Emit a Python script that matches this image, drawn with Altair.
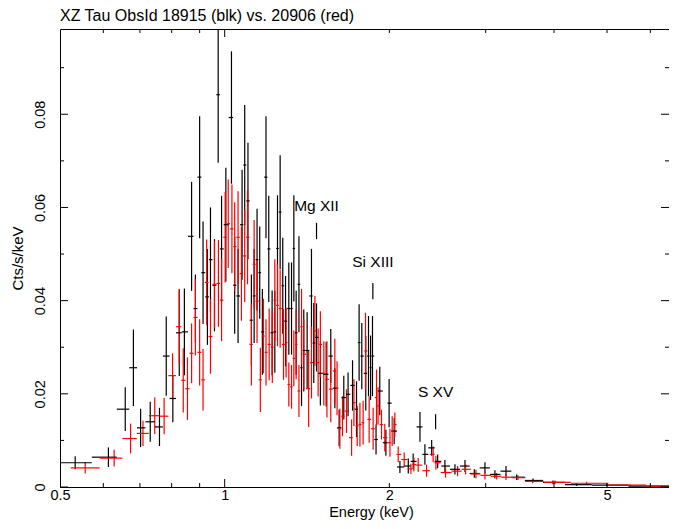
import altair as alt
import numpy as np
import pandas as pd

# ---- data ----
black_energy = [0.533, 0.613, 0.658, 0.681, 0.702, 0.731, 0.760, 0.782, 0.804, 0.826,
                0.844, 0.870, 0.884, 0.900, 0.913, 0.930, 0.942, 0.958, 0.973, 0.987,
                1.005, 1.029, 1.043, 1.058, 1.076, 1.088, 1.103, 1.119, 1.132, 1.146,
                1.159, 1.172, 1.190, 1.204, 1.221, 1.235, 1.249, 1.263, 1.277, 1.292,
                1.310, 1.325, 1.338, 1.351, 1.367, 1.382, 1.395, 1.415, 1.441, 1.455,
                1.472, 1.496, 1.533, 1.563, 1.590, 1.619, 1.651, 1.681, 1.713, 1.742,
                1.761, 1.781, 1.811, 1.832, 1.848, 1.863, 1.891, 1.921, 1.971, 1.998,
                2.041, 2.091, 2.166, 2.211, 2.275, 2.323, 2.390, 2.451, 2.527, 2.636,
                2.750, 2.860, 2.991, 3.119, 3.268, 3.418, 3.661, 3.983, 4.402, 4.994, 5.995]
black_rate = [0.0052, 0.0064, 0.0167, 0.0256, 0.0127, 0.0140, 0.0129, 0.0281, 0.0190, 0.0331,
              0.0333, 0.0538, 0.0383, 0.0665, 0.0460, 0.0408, 0.0488, 0.0433, 0.0842, 0.0511,
              0.0563, 0.0793, 0.0433, 0.0410, 0.0563, 0.0691, 0.0614, 0.0358, 0.0410, 0.0488,
              0.0460, 0.0333, 0.0665, 0.0511, 0.0331, 0.0333, 0.0512, 0.0590, 0.0432, 0.0356,
              0.0383, 0.0383, 0.0512, 0.0331, 0.0435, 0.0256, 0.0293, 0.0293, 0.0410, 0.0309,
              0.0321, 0.0244, 0.0242, 0.0281, 0.0212, 0.0127, 0.0192, 0.0199, 0.0218, 0.0167,
              0.0310, 0.0281, 0.0244, 0.0281, 0.0256, 0.0281, 0.0102, 0.0206, 0.0095, 0.0180,
              0.0120, 0.0043, 0.0045, 0.0055, 0.0129, 0.0070, 0.0084, 0.0055, 0.0045, 0.0038,
              0.0045, 0.0029, 0.0041, 0.0027, 0.0034, 0.0021, 0.0014, 0.0010, 0.0005, 0.0004, 0.0002]
black_err = [0.0014, 0.0021, 0.0047, 0.0082, 0.0041, 0.0043, 0.0041, 0.0085, 0.0051, 0.0093,
             0.0093, 0.0117, 0.0073, 0.0131, 0.0110, 0.0103, 0.0112, 0.0099, 0.0146, 0.0114,
             0.0122, 0.0142, 0.0104, 0.0101, 0.0118, 0.0129, 0.0125, 0.0098, 0.0101, 0.0109,
             0.0099, 0.0092, 0.0131, 0.0114, 0.0091, 0.0088, 0.0114, 0.0122, 0.0103, 0.0097,
             0.0099, 0.0099, 0.0114, 0.0090, 0.0103, 0.0082, 0.0088, 0.0082, 0.0101, 0.0086,
             0.0073, 0.0069, 0.0069, 0.0058, 0.0043, 0.0039, 0.0047, 0.0047, 0.0054, 0.0060,
             0.0082, 0.0071, 0.0080, 0.0086, 0.0069, 0.0086, 0.0032, 0.0052, 0.0028, 0.0052,
             0.0028, 0.0013, 0.0016, 0.0017, 0.0032, 0.0022, 0.0017, 0.0015, 0.0013, 0.0011,
             0.0013, 0.0009, 0.0012, 0.0009, 0.0011, 0.0006, 0.0004, 0.0004, 0.0003, 0.0003, 0.0002]

red_energy = [0.556, 0.628, 0.673, 0.709, 0.745, 0.775, 0.803, 0.826, 0.840, 0.855,
              0.870, 0.884, 0.900, 0.913, 0.927, 0.942, 0.958, 0.974, 0.987, 1.002,
              1.015, 1.031, 1.043, 1.058, 1.073, 1.088, 1.101, 1.119, 1.132, 1.146,
              1.162, 1.177, 1.190, 1.206, 1.222, 1.235, 1.249, 1.263, 1.281, 1.295,
              1.310, 1.325, 1.338, 1.351, 1.367, 1.382, 1.395, 1.424, 1.441, 1.462,
              1.482, 1.496, 1.518, 1.538, 1.563, 1.590, 1.605, 1.624, 1.642, 1.670,
              1.706, 1.723, 1.747, 1.767, 1.791, 1.809, 1.837, 1.868, 1.895, 1.907,
              1.935, 1.962, 2.005, 2.024, 2.047, 2.076, 2.129, 2.190, 2.218, 2.258,
              2.339, 2.405, 2.433, 2.534, 2.666, 2.757, 2.880, 2.991, 3.142, 3.268,
              3.437, 3.656, 4.017, 4.590, 5.510, 6.300]
red_rate = [0.0041, 0.0062, 0.0104, 0.0115, 0.0153, 0.0152, 0.0239, 0.0344, 0.0229, 0.0211,
            0.0287, 0.0364, 0.0289, 0.0230, 0.0439, 0.0323, 0.0435, 0.0437, 0.0401, 0.0536,
            0.0565, 0.0554, 0.0516, 0.0536, 0.0458, 0.0496, 0.0536, 0.0306, 0.0478, 0.0399,
            0.0230, 0.0324, 0.0289, 0.0306, 0.0300, 0.0401, 0.0390, 0.0383, 0.0306, 0.0310,
            0.0220, 0.0215, 0.0276, 0.0306, 0.0206, 0.0344, 0.0285, 0.0211, 0.0267, 0.0335,
            0.0267, 0.0306, 0.0244, 0.0231, 0.0210, 0.0249, 0.0212, 0.0125, 0.0152, 0.0163,
            0.0106, 0.0181, 0.0131, 0.0134, 0.0138, 0.0292, 0.0145, 0.0125, 0.0192, 0.0174,
            0.0134, 0.0106, 0.0095, 0.0120, 0.0134, 0.0070, 0.0059, 0.0039, 0.0048, 0.0047,
            0.0035, 0.0070, 0.0052, 0.0031, 0.0034, 0.0038, 0.0028, 0.0025, 0.0023, 0.0021,
            0.0020, 0.0012, 0.0010, 0.0008, 0.0004, 0.0002]
red_err = [0.0012, 0.0018, 0.0032, 0.0027, 0.0039, 0.0039, 0.0048, 0.0081, 0.0069, 0.0067,
           0.0064, 0.0082, 0.0071, 0.0066, 0.0092, 0.0080, 0.0093, 0.0093, 0.0088, 0.0097,
           0.0095, 0.0095, 0.0095, 0.0099, 0.0101, 0.0099, 0.0101, 0.0088, 0.0095, 0.0090,
           0.0069, 0.0080, 0.0071, 0.0077, 0.0077, 0.0088, 0.0088, 0.0084, 0.0076, 0.0075,
           0.0047, 0.0047, 0.0060, 0.0075, 0.0056, 0.0081, 0.0075, 0.0082, 0.0077, 0.0075,
           0.0073, 0.0071, 0.0069, 0.0082, 0.0071, 0.0069, 0.0058, 0.0043, 0.0043, 0.0047,
           0.0039, 0.0050, 0.0043, 0.0047, 0.0047, 0.0082, 0.0050, 0.0045, 0.0060, 0.0040,
           0.0032, 0.0030, 0.0030, 0.0032, 0.0026, 0.0017, 0.0015, 0.0011, 0.0015, 0.0015,
           0.0013, 0.0017, 0.0015, 0.0011, 0.0011, 0.0011, 0.0009, 0.0009, 0.0007, 0.0006,
           0.0005, 0.0004, 0.0004, 0.0003, 0.0002, 0.0001]

line_names = ["Mg XII", "Si XIII", "S XV"]
line_energy = [1.472, 1.866, 2.43]
label_rate = [0.0603, 0.0483, 0.0203]
marker_lo = [0.0532, 0.0403, 0.0124]
marker_hi = [0.0567, 0.0438, 0.0156]

x_major_ticks = [1.0]
x_minor_ticks = [0.6, 0.7, 0.8, 0.9, 2.0, 3.0, 4.0, 5.0, 6.0]
y_major_ticks = [0.0, 0.02, 0.04, 0.06, 0.08]
y_minor_ticks = [0.01, 0.03, 0.05, 0.07, 0.09]
x_labels = [0.5, 1, 2, 5]

E_MIN, E_MAX = 0.5, 6.49
R_MAX = 0.0983
W, H = 609, 458
FONT = "Liberation Sans"


def build(series, energy, rate, err):
    e = np.array(energy)
    mids = np.sqrt(e[:-1] * e[1:])
    lo = np.concatenate([[e[0] ** 2 / mids[0]], mids])
    hi = np.concatenate([mids, [e[-1] ** 2 / mids[-1]]])
    r = np.array(rate)
    s = np.array(err)
    return pd.DataFrame({"series": series, "E": e, "lo_e": lo, "hi_e": hi,
                         "rate": r, "lo_r": r - s, "hi_r": r + s})


df = pd.concat([build("blk", black_energy, black_rate, black_err),
                build("red", red_energy, red_rate, red_err)], ignore_index=True)

xs = alt.Scale(type="log", domain=[E_MIN, E_MAX], nice=False, zero=False)
ys = alt.Scale(domain=[0, R_MAX], nice=False, zero=False)
x_axis = alt.Axis(values=x_labels, format="~g", title="Energy (keV)", labelPadding=1,
                  labelFontSize=14.5, titleFontSize=14.5,
                  titleX=311, titleY=25.5, titleAlign="center", titleBaseline="middle",
                  labelFlush=False)
y_axis = alt.Axis(values=y_major_ticks, format="~g", title="Cts/s/keV", labelAngle=270,
                  labelFontSize=14.5, titleFontSize=15,
                  labelAlign="center", labelBaseline="middle", labelPadding=20,
                  titleAngle=270, titleX=-43, titleY=H / 2, titleAlign="center",
                  titleBaseline="middle", labelFlush=False)
col = alt.Color("series:N", scale=alt.Scale(domain=["blk", "red"], range=["#000000", "#ff0000"]),
                legend=None)

base = alt.Chart(df)
vbars = base.mark_rule(strokeWidth=1.2, clip=True).encode(
    x=alt.X("E:Q", scale=xs, axis=x_axis),
    y=alt.Y("lo_r:Q", scale=ys, axis=y_axis),
    y2="hi_r:Q",
    color=col,
)
hbars = base.mark_rule(strokeWidth=1.2, clip=True).encode(
    x=alt.X("lo_e:Q", scale=xs, axis=x_axis),
    x2="hi_e:Q",
    y=alt.Y("rate:Q", scale=ys, axis=y_axis),
    color=col,
)

lines_df = pd.DataFrame({"name": line_names, "E": line_energy, "ly": label_rate,
                         "lo": marker_lo, "hi": marker_hi})
labels = alt.Chart(lines_df).mark_text(font=FONT, fontSize=15.5, color="black",
                                       align="center", baseline="middle").encode(
    x=alt.X("E:Q", scale=xs, axis=x_axis),
    y=alt.Y("ly:Q", scale=ys, axis=y_axis),
    text="name:N",
)
markers = alt.Chart(lines_df).mark_rule(color="black", strokeWidth=1.2).encode(
    x=alt.X("E:Q", scale=xs, axis=x_axis),
    y=alt.Y("lo:Q", scale=ys, axis=y_axis),
    y2="hi:Q",
)


def yticks(vals, length):
    d = pd.DataFrame({"v": vals})
    c = alt.Chart(d)
    left = c.mark_rule(color="black", strokeWidth=1).encode(
        y=alt.Y("v:Q", scale=ys, axis=y_axis), x=alt.value(0), x2=alt.value(length))
    right = c.mark_rule(color="black", strokeWidth=1).encode(
        y=alt.Y("v:Q", scale=ys, axis=y_axis), x=alt.value(W), x2=alt.value(W - length))
    return [left, right]


def xticks(vals, length):
    d = pd.DataFrame({"v": vals})
    c = alt.Chart(d)
    bottom = c.mark_rule(color="black", strokeWidth=1).encode(
        x=alt.X("v:Q", scale=xs, axis=x_axis), y=alt.value(H), y2=alt.value(H - length))
    top = c.mark_rule(color="black", strokeWidth=1).encode(
        x=alt.X("v:Q", scale=xs, axis=x_axis), y=alt.value(0), y2=alt.value(length))
    return [bottom, top]


ticks = yticks(y_major_ticks, 8) + yticks(y_minor_ticks, 4) + \
    xticks(x_major_ticks, 8) + xticks(x_minor_ticks, 4)

chart = alt.layer(vbars, hbars, markers, labels, *ticks).properties(
    width=W, height=H,
    title=alt.TitleParams(text="XZ Tau ObsId 18915 (blk) vs. 20906 (red)", anchor="start",
                          frame="group", font=FONT, fontSize=16, fontWeight="normal",
                          color="black", offset=5),
    autosize=alt.AutoSizeParams(type="none"),
    padding={"left": 52, "top": 21, "right": 0, "bottom": 34},
).configure_view(stroke="black", strokeWidth=1).configure_axis(
    grid=False, domain=False, ticks=False, tickSize=0,
    labelFont=FONT, labelFontSize=15, labelColor="black",
    titleFont=FONT, titleFontSize=15, titleFontWeight="normal", titleColor="black",
)

chart.save("out.html", embed_options={"renderer": "svg", "actions": False})
